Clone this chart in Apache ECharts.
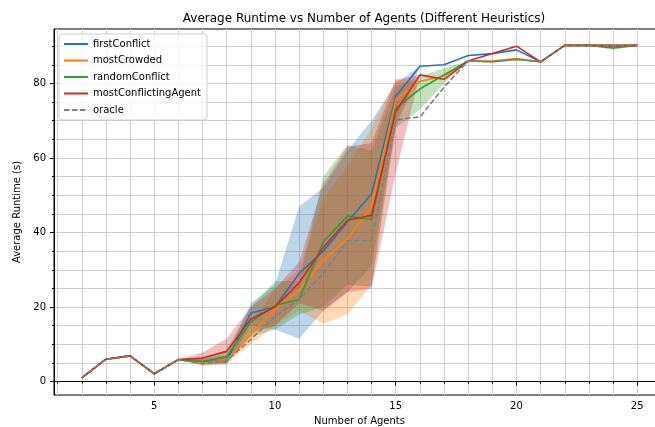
<!DOCTYPE html>
<html>
<head>
<meta charset="utf-8">
<script src="https://cdn.jsdelivr.net/npm/echarts@6/dist/echarts.min.js"></script>
<style>html,body{margin:0;padding:0;background:#fff}#c{width:655px;height:427px}</style>
</head>
<body>
<div id="c"></div>
<script>
// ---- data ----
const agents = [2,3,4,5,6,7,8,9,10,11,12,13,14,15,16,17,18,19,20,21,22,23,24,25];

const firstConflict        = [1.0,6.0,6.9,2.1,5.9,5.3,5.6,18.4,20.0,29.0,35.0,42.8,50.4,76.5,84.6,85.0,87.5,88.0,89.0,85.8,90.2,90.2,90.0,90.2];
const firstConflictLo      = [1.0,6.0,6.9,2.1,5.9,4.5,4.5,15.0,14.0,11.5,19.0,24.0,31.0,68.0,84.6,85.0,87.5,88.0,89.0,85.8,90.2,90.2,90.0,90.2];
const firstConflictHi      = [1.0,6.0,6.9,2.1,5.9,6.2,7.0,21.0,26.0,47.0,52.0,62.0,70.0,80.0,84.6,85.0,87.5,88.0,89.0,85.8,90.2,90.2,90.0,90.2];

const mostCrowded          = [1.0,6.0,6.9,2.1,5.9,4.9,5.8,12.5,19.5,24.5,32.5,38.3,47.0,75.7,80.5,82.0,86.0,86.0,86.7,85.8,90.2,90.2,90.2,90.2];
const mostCrowdedLo        = [1.0,6.0,6.9,2.1,5.9,4.2,4.8,10.0,15.0,19.0,15.5,18.0,26.0,70.0,80.5,82.0,86.0,86.0,86.7,85.8,90.2,90.2,90.2,90.2];
const mostCrowdedHi        = [1.0,6.0,6.9,2.1,5.9,5.6,7.0,15.0,25.0,30.0,49.0,58.0,68.0,81.0,80.5,82.0,86.0,86.0,86.7,85.8,90.2,90.2,90.2,90.2];

const randomConflict       = [1.0,6.0,6.9,2.1,5.9,5.4,6.7,16.0,20.4,22.0,37.5,44.4,43.5,73.3,78.5,82.3,86.0,85.8,86.4,85.8,90.2,90.2,89.5,90.2];
const randomConflictLo     = [1.0,6.0,6.9,2.1,5.9,4.5,5.0,12.0,14.0,18.0,20.0,26.0,25.5,68.0,73.0,80.0,86.0,85.8,86.4,85.8,90.2,90.2,89.0,90.2];
const randomConflictHi     = [1.0,6.0,6.9,2.1,5.9,6.3,8.5,20.0,27.0,27.0,55.0,63.5,62.0,79.0,82.0,84.0,86.0,85.8,86.4,85.8,90.2,90.2,90.2,90.2];

const mostConflictingAgent   = [1.0,6.0,6.9,2.1,5.9,6.3,8.1,16.8,20.0,26.5,36.0,43.3,44.6,72.4,82.3,81.1,86.0,88.0,90.0,85.8,90.2,90.2,90.2,90.2];
const mostConflictingAgentLo = [1.0,6.0,6.9,2.1,5.9,5.0,5.0,13.0,15.0,21.0,19.0,24.0,25.0,56.0,82.3,81.1,86.0,88.0,90.0,85.8,90.2,90.2,90.2,90.2];
const mostConflictingAgentHi = [1.0,6.0,6.9,2.1,5.9,7.8,11.5,20.0,25.0,32.0,53.0,63.0,64.0,81.0,82.3,81.1,86.0,88.0,90.0,85.8,90.2,90.2,90.2,90.2];

const oracle               = [1.0,6.0,6.9,2.1,5.9,4.8,5.6,11.3,17.5,22.0,29.0,37.8,37.8,70.2,71.0,79.0,86.0,85.8,86.5,85.8,90.2,90.2,90.2,90.2];

const xTickLabels = [5,10,15,20,25];
const xMinorTicks = [1,2,3,4,5,6,7,8,9,10,11,12,13,14,15,16,17,18,19,20,21,22,23,24,25,26];
const yTickLabels = [0,20,40,60,80];
const yMinorTicks = [0,5,10,15,20,25,30,35,40,45,50,55,60,65,70,75,80,85,90];

const names  = ['firstConflict','mostCrowded','randomConflict','mostConflictingAgent','oracle'];
const colors = ['#1f77b4','#ff7f0e','#2ca02c','#d62728','#808080'];

// ---- build ----
const pairs = ys => agents.map((x,i)=>[x, ys[i]]);
function lineSeries(name, ys, color, dashed, z) {
  return {
    type:'line', name:name, data:pairs(ys), symbol:'none', showSymbol:false,
    xAxisIndex:0, yAxisIndex:0, z:z, animation:false,
    lineStyle:{color:color, width:1.6, type: dashed ? [5.5,2.4] : 'solid'},
    itemStyle:{color:color}
  };
}
function bandSeries(name, lo, hi, color) {
  return {
    type:'custom', name:name+'_band', silent:true, z:1, xAxisIndex:0, yAxisIndex:0,
    data:[[agents[0], lo[0]]], clip:true,
    renderItem:function(params, api){
      const pts = [];
      for (let i=0;i<agents.length;i++) pts.push(api.coord([agents[i], hi[i]]));
      for (let i=agents.length-1;i>=0;i--) pts.push(api.coord([agents[i], lo[i]]));
      return {type:'polygon', shape:{points:pts}, style:{fill:color, opacity:0.3}};
    }
  };
}

const font = 'DejaVu Sans';
const chart = echarts.init(document.getElementById('c'), null, {renderer:'canvas'});
const option = {
  animation:false,
  backgroundColor:'#ffffff',
  textStyle:{fontFamily:font},
  title:{
    text:'Average Runtime vs Number of Agents (Different Heuristics)',
    left:359, top:8, textAlign:'center',
    textStyle:{fontFamily:font, fontSize:12, fontWeight:'normal', color:'#000'}
  },
  legend:{
    orient:'vertical', left:59, top:34,
    data:names, itemWidth:24, itemHeight:10, itemGap:6.5,
    itemStyle:{opacity:0},
    textStyle:{fontFamily:font, fontSize:10, color:'#000'},
    backgroundColor:'rgba(255,255,255,0.8)', borderColor:'#d0d0d0', borderWidth:1, borderRadius:3,
    padding:[5,6,5,4]
  },
  grid:{left:54, right:-10, top:29, bottom:32, outerBoundsMode:'none', containLabel:false,
        show:true, borderColor:'#000', borderWidth:1, backgroundColor:'transparent'},
  xAxis:[
    {type:'value', min:0.85, max:26.15, name:'Number of Agents', nameLocation:'middle', nameGap:21,
     nameTextStyle:{fontFamily:font, fontSize:10, color:'#000'},
     axisLine:{show:true, lineStyle:{color:'#000', width:1}},
     axisTick:{show:true, customValues:xTickLabels, length:4, lineStyle:{color:'#000'}},
     axisLabel:{customValues:xTickLabels, fontSize:10, color:'#000', margin:6, fontFamily:font},
     splitLine:{show:false}},
    {type:'value', min:0.85, max:26.15, position:'bottom',
     axisLine:{show:false}, axisLabel:{show:false},
     axisTick:{show:true, customValues:xMinorTicks, length:2, lineStyle:{color:'#000'}},
     splitLine:{show:true, lineStyle:{color:'#d0d0d0', width:1}}}
  ],
  yAxis:[
    {type:'value', min:-3.6, max:94.6, name:'Average Runtime (s)', nameLocation:'middle', nameGap:22,
     nameTextStyle:{fontFamily:font, fontSize:10, color:'#000'},
     axisLine:{show:true, lineStyle:{color:'#000', width:1}},
     axisTick:{show:true, customValues:yTickLabels, length:4, lineStyle:{color:'#000'}},
     axisLabel:{customValues:yTickLabels, fontSize:10, color:'#000', margin:8, fontFamily:font},
     splitLine:{show:false}},
    {type:'value', min:-3.6, max:94.6, position:'left',
     axisLine:{show:false}, axisLabel:{show:false},
     axisTick:{show:true, customValues:yMinorTicks, length:2, lineStyle:{color:'#000'}},
     splitLine:{show:true, lineStyle:{color:'#d0d0d0', width:1}}}
  ],
  series:[
    bandSeries(names[0], firstConflictLo, firstConflictHi, colors[0]),
    bandSeries(names[1], mostCrowdedLo, mostCrowdedHi, colors[1]),
    bandSeries(names[2], randomConflictLo, randomConflictHi, colors[2]),
    bandSeries(names[3], mostConflictingAgentLo, mostConflictingAgentHi, colors[3]),
    lineSeries(names[0], firstConflict, colors[0], false, 3),
    lineSeries(names[1], mostCrowded, colors[1], false, 4),
    lineSeries(names[2], randomConflict, colors[2], false, 5),
    lineSeries(names[3], mostConflictingAgent, colors[3], false, 6),
    lineSeries(names[4], oracle, colors[4], true, 7)
  ]
};
chart.setOption(option);
</script>
</body>
</html>
